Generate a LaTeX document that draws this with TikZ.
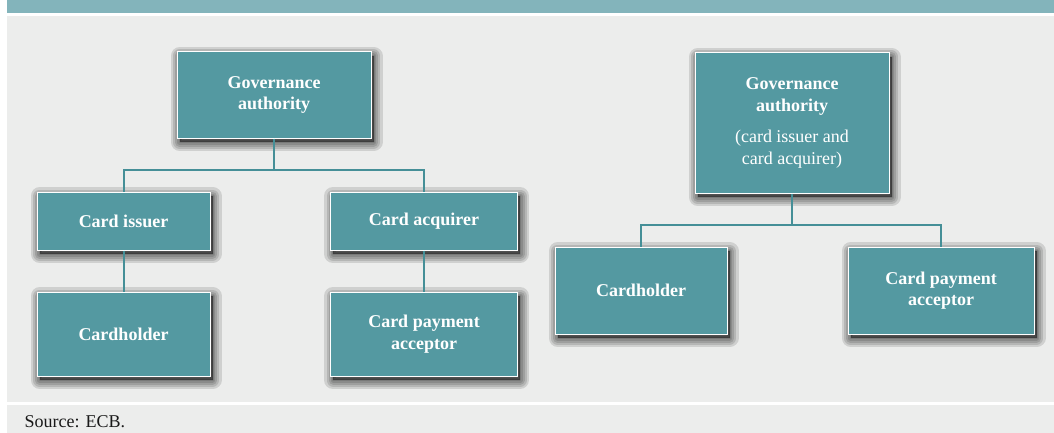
\documentclass[tikz,border=0pt]{standalone}
\usepackage{fontspec}
\setmainfont{Liberation Serif}
\definecolor{boxteal}{HTML}{5499A1}
\definecolor{linkteal}{HTML}{458F97}
\definecolor{bandteal}{HTML}{83B4BB}
\definecolor{panelgray}{HTML}{ECEDEC}

\tikzset{
    haze/.style={preaction={draw=black, fill=black, line width=#1, line join=round, opacity=0.12,
        transform canvas={shift={(2.5pt,-4pt)}}}},
}

\begin{document}
\begin{tikzpicture}[x=1pt, y=-1pt,
    box/.style={draw=white, line width=1pt, fill=boxteal, text=white, align=center, inner sep=0pt,
        font=\fontsize{18}{21.5}\selectfont\bfseries,
        haze=18pt, haze=13pt, haze=9pt, haze=5pt, haze=2pt},
    link/.style={draw=linkteal, line width=2pt}]

    % frame
    \useasboundingbox (0,0) rectangle (1054,433);
    \fill[white] (0,0) rectangle (1054,433);
    \fill[bandteal] (7,0) rectangle (1054,13);
    \fill[panelgray] (7,16) rectangle (1054,402);
    \fill[panelgray] (7,405) rectangle (1054,433);

    % left scheme
    \node[box, minimum width=194pt, minimum height=86pt] (gov1) at (274,95) {Governance\\authority};
    \node[box, minimum width=173pt, minimum height=58pt] (issuer) at (123.5,221) {Card issuer};
    \node[box, minimum width=173pt, minimum height=84pt] (holder1) at (123.5,334) {Cardholder};
    \node[box, minimum width=187pt, minimum height=58pt] (acquirer) at (424,221) {Card acquirer};
    \node[box, minimum width=187pt, minimum height=84pt] (acceptor1) at (424,334) {Card payment\\acceptor};

    \coordinate (fork1) at (274,170);
    \draw[link] (gov1.south) -- (fork1) -| (issuer.north);
    \draw[link] (fork1) -| (acquirer.north);
    \draw[link] (issuer.south) -- (holder1.north);
    \draw[link] (acquirer.south) -- (acceptor1.north);

    % right scheme
    \node[box, minimum width=194pt, minimum height=140pt] (gov2) at (792,123)
        {Governance\\authority\\[10pt]\mdseries(card issuer and\\\mdseries card acquirer)};
    \node[box, minimum width=172pt, minimum height=87pt] (holder2) at (641,290.5) {Cardholder};
    \node[box, minimum width=186pt, minimum height=87pt] (acceptor2) at (941,290.5) {Card payment\\acceptor};

    \coordinate (fork2) at (792,225);
    \draw[link] (gov2.south) -- (fork2) -| (holder2.north);
    \draw[link] (fork2) -| (acceptor2.north);

    % source
    \node[anchor=base west, font=\fontsize{18}{21.5}\selectfont, text=black!90] (src) at (21,427) {Source: ECB.};

\end{tikzpicture}
\end{document}
